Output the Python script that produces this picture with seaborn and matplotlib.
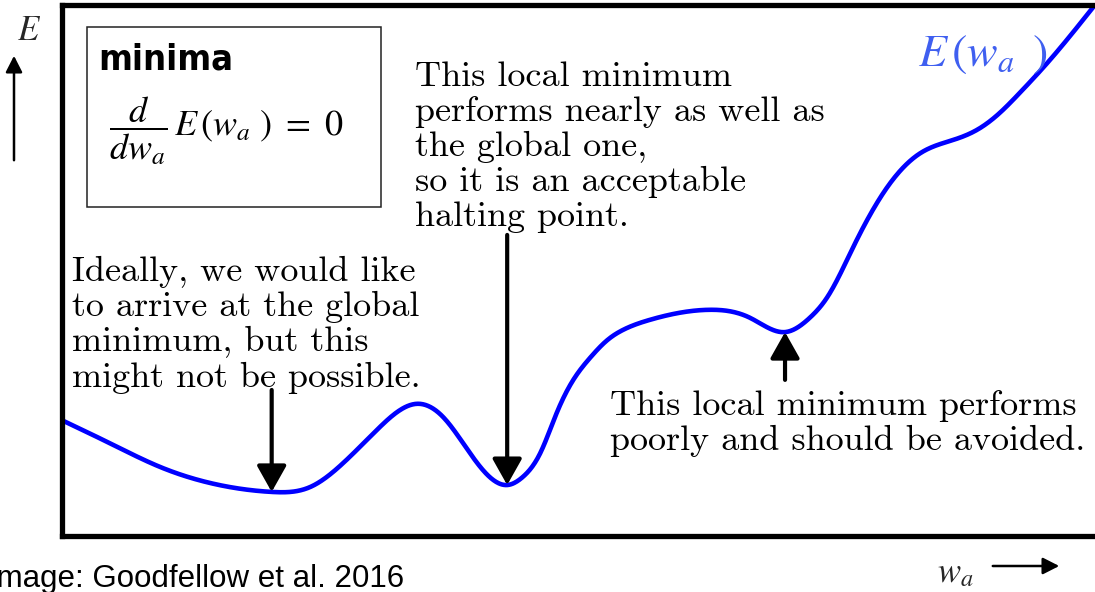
import numpy as np
import pandas as pd
import matplotlib
matplotlib.use("Agg")
import matplotlib.pyplot as plt
from matplotlib.patches import Rectangle, FancyArrowPatch
import seaborn as sns

# Error surface E(w_a), read along the weight axis (0..10) and energy axis (0..10)
w_values = [0.00, 0.46, 0.95, 1.43, 2.03, 2.40, 2.72, 3.05, 3.44, 3.69, 3.95,
            4.31, 4.46, 4.63, 4.79, 4.95, 5.11, 5.28, 5.43, 5.69, 6.27, 6.66,
            7.00, 7.24, 7.41, 7.66, 7.99, 8.31, 8.63, 8.86, 9.08, 9.27, 9.54,
            10.00]
e_values = [2.18, 1.75, 1.30, 1.00, 0.83, 0.92, 1.37, 2.00, 2.49, 2.24, 1.56,
            0.96, 1.11, 1.56, 2.32, 2.94, 3.35, 3.69, 3.88, 4.07, 4.26, 4.11,
            3.84, 4.11, 4.50, 5.44, 6.57, 7.21, 7.46, 7.65, 7.97, 8.34, 8.91,
            10.00]

# Minima that are annotated: global, acceptable local, poor local
minima_w = [2.03, 4.31, 7.00]
minima_e = [0.83, 0.96, 3.84]
arrow_tail_e = [2.75, 5.67, 2.94]

label_global = "Ideally, we would like\nto arrive at the global\nminimum, but this\nmight not be possible."
label_good = ("This local minimum\nperforms nearly as well as\nthe global one,\n"
              "so it is an acceptable\nhalting point.")
label_bad = "This local minimum performs\npoorly and should be avoided."
caption = "Image: Goodfellow et al. 2016"

W, H = 1095, 592


def P(x, y):
    """Pixel position (from top-left) to figure fraction."""
    return x / W, 1 - y / H


def natural_spline(x, y, n=1200):
    x = np.asarray(x, float)
    y = np.asarray(y, float)
    h = np.diff(x)
    m = len(x)
    A = np.zeros((m, m))
    r = np.zeros(m)
    A[0, 0] = A[-1, -1] = 1.0
    for i in range(1, m - 1):
        A[i, i - 1] = h[i - 1]
        A[i, i] = 2 * (h[i - 1] + h[i])
        A[i, i + 1] = h[i]
        r[i] = 6 * ((y[i + 1] - y[i]) / h[i] - (y[i] - y[i - 1]) / h[i - 1])
    M = np.linalg.solve(A, r)
    xs = np.linspace(x[0], x[-1], n)
    k = np.clip(np.searchsorted(x, xs) - 1, 0, m - 2)
    a = x[k + 1] - xs
    b = xs - x[k]
    hk = h[k]
    ys = (M[k] * a ** 3 + M[k + 1] * b ** 3) / (6 * hk) \
        + (y[k] / hk - M[k] * hk / 6) * a + (y[k + 1] / hk - M[k + 1] * hk / 6) * b
    return xs, ys


sns.set_theme(style="white")
plt.rcParams["mathtext.fontset"] = "stix"

fig = plt.figure(figsize=(W / 100, H / 100), dpi=100)
x0, y0 = P(62, 536)
x1, y1 = P(1098, 5)
ax = fig.add_axes([x0, y0, x1 - x0, y1 - y0])

xs, ys = natural_spline(w_values, e_values)
curve = pd.DataFrame({"w": xs, "E": ys})
sns.lineplot(data=curve, x="w", y="E", ax=ax, color="#0000FF", lw=3.3,
             sort=False, estimator=None)

ax.set_xlim(0, 10.03)
ax.set_ylim(0, 10.0)
ax.set_xticks([])
ax.set_yticks([])
ax.set_xlabel("")
ax.set_ylabel("")
for s in ax.spines.values():
    s.set_visible(True)
    s.set_color("black")
    s.set_linewidth(3.8)

for wm, em, et in zip(minima_w, minima_e, arrow_tail_e):
    ax.annotate("", xy=(wm, em), xytext=(wm, et),
                arrowprops=dict(arrowstyle="-|>,head_length=0.8,head_width=0.45",
                                mutation_scale=20, lw=3, color="black",
                                shrinkA=0, shrinkB=0))

serif = dict(family="cmr10", fontsize=26, color="black", linespacing=1.12)
fig.text(*P(415, 61), label_good, ha="left", va="top", **serif)
fig.text(*P(72, 256), label_global, ha="left", va="top", **serif)
fig.text(*P(610, 390), label_bad, ha="left", va="top", **serif)

# Curve name
fig.text(*P(918, 66), r"$E\,(w_a\ \,)$", color="#3F5FF0", fontsize=33,
         ha="left", va="baseline")

# Box stating the condition for a minimum
bx0, by0 = P(87, 207)
bx1, by1 = P(381, 27)
fig.add_artist(Rectangle((bx0, by0), bx1 - bx0, by1 - by0, transform=fig.transFigure,
                         fill=False, edgecolor="#222222", lw=1.1))
fig.text(*P(98, 70), "minima", family="DejaVu Sans", fontstretch="condensed",
         fontweight="heavy", fontsize=26, ha="left", va="baseline", color="black")
fig.text(*P(109, 136), r"$\dfrac{d}{dw_a}\,E\,(w_a\ )\ =\ 0$", fontsize=26,
         ha="left", va="baseline", color="black")

# Axis hints outside the frame
fig.text(*P(17, 40), r"$E$", fontsize=25, ha="left", va="baseline")
fig.add_artist(FancyArrowPatch(P(14, 163), P(14, 53), transform=fig.transFigure,
                               arrowstyle="-|>,head_length=0.55,head_width=0.28",
                               mutation_scale=18, lw=1.8, color="black"))
fig.text(*P(937, 582), r"$w_a$", fontsize=25, ha="left", va="baseline")
fig.add_artist(FancyArrowPatch(P(990, 566), P(1062, 566), transform=fig.transFigure,
                               arrowstyle="-|>,head_length=0.55,head_width=0.28",
                               mutation_scale=18, lw=1.8, color="black"))

fig.text(*P(-12, 587), caption, family="Liberation Sans", fontsize=22.5,
         ha="left", va="baseline", color="black")

fig.savefig("out.png", dpi=100)
